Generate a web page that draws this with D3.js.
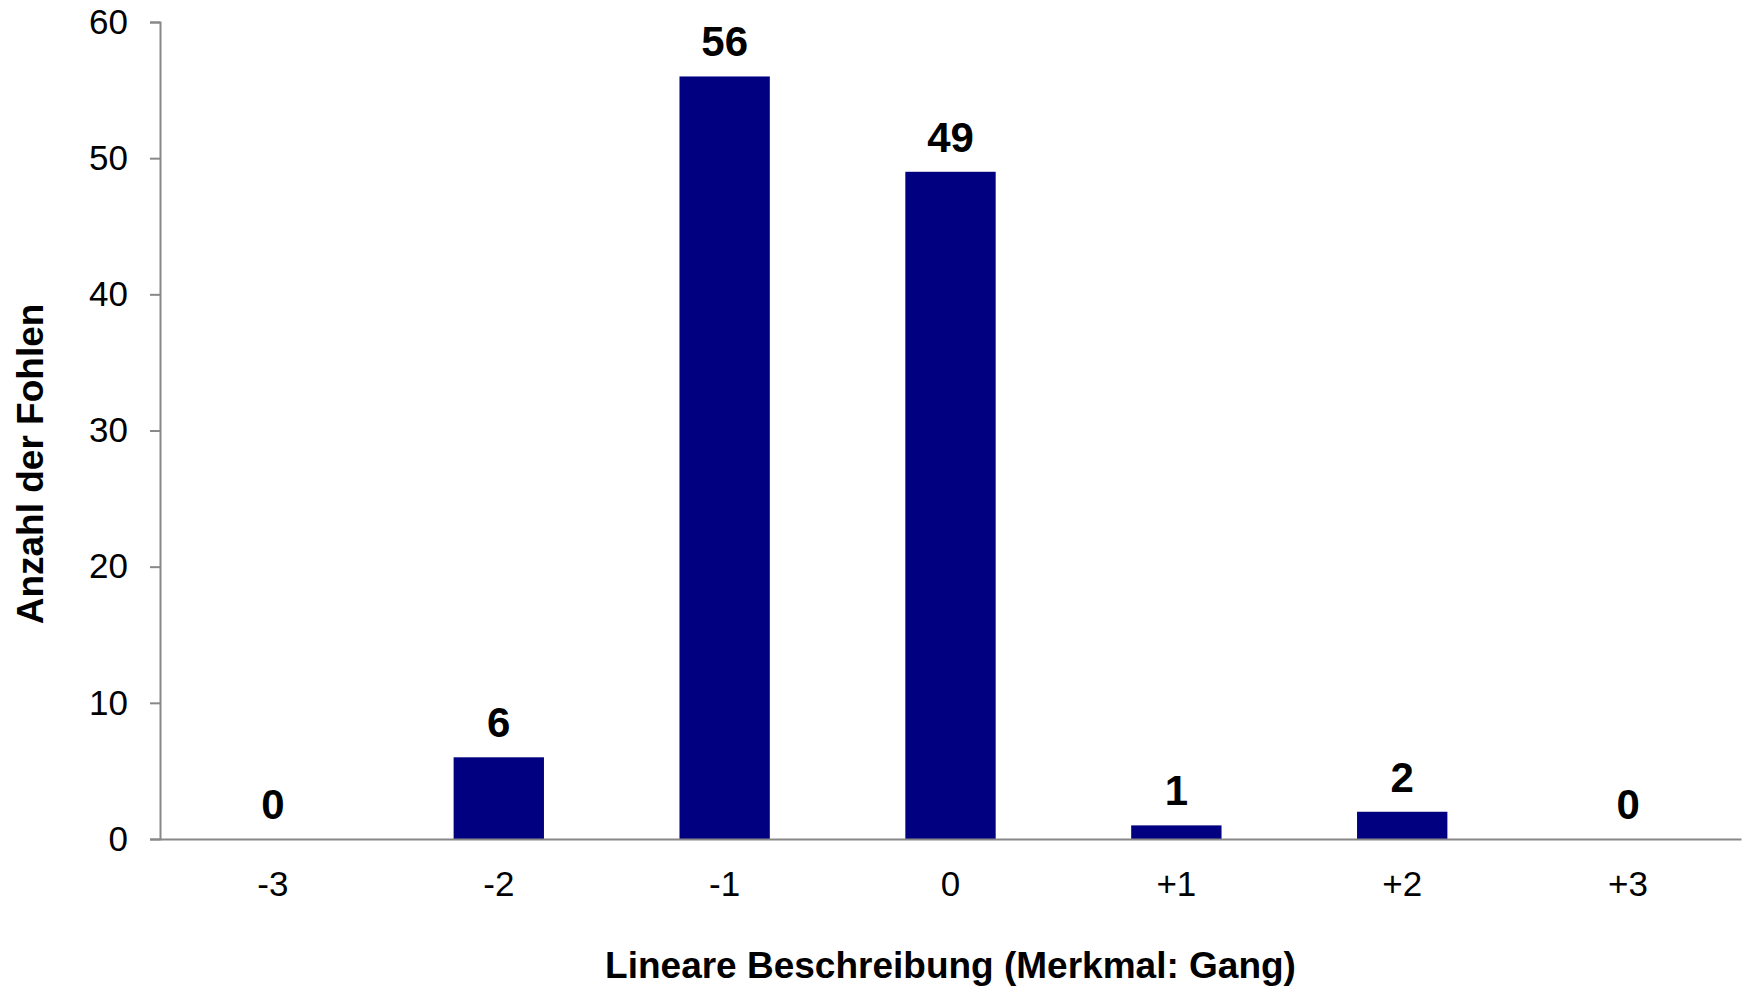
<!DOCTYPE html>
<html>
<head>
<meta charset="utf-8">
<script src="https://cdn.jsdelivr.net/npm/d3@7"></script>
<style>
  body { margin: 0; background: #fff; }
  svg { display: block; font-family: 'Liberation Sans', Arial, sans-serif; }
</style>
</head>
<body>
<div id="chart"></div>
<script>
const categories = ['-3', '-2', '-1', '0', '+1', '+2', '+3'];
const counts = [0, 6, 56, 49, 1, 2, 0];
const yTicks = [0, 10, 20, 30, 40, 50, 60];
const xTitle = 'Lineare Beschreibung (Merkmal: Gang)';
const yTitle = 'Anzahl der Fohlen';

const width = 1748;
const height = 986;
const margin = { top: 22, right: 7, bottom: 147, left: 160 };
const plotW = width - margin.left - margin.right;
const plotH = height - margin.top - margin.bottom;

const svg = d3.select('#chart').append('svg')
  .attr('width', width)
  .attr('height', height);

const g = svg.append('g')
  .attr('transform', `translate(${margin.left}, ${margin.top})`);

const x = d3.scaleBand()
  .domain(categories)
  .range([0, plotW])
  .paddingInner(0.6)
  .paddingOuter(0.3);

const y = d3.scaleLinear()
  .domain([0, 60])
  .range([plotH, 0]);

// bars
g.selectAll('rect.bar')
  .data(counts)
  .join('rect')
  .attr('class', 'bar')
  .attr('x', (d, i) => x(categories[i]))
  .attr('y', d => y(d))
  .attr('width', x.bandwidth())
  .attr('height', d => plotH - y(d))
  .attr('fill', '#000080');

// value labels
g.selectAll('text.value')
  .data(counts)
  .join('text')
  .attr('class', 'value')
  .attr('x', (d, i) => x(categories[i]) + x.bandwidth() / 2)
  .attr('y', d => y(d) - 20)
  .attr('text-anchor', 'middle')
  .attr('font-size', '42px')
  .attr('font-weight', 'bold')
  .attr('fill', '#000')
  .text(d => d);

// y axis
const yAxis = g.append('g')
  .call(d3.axisLeft(y).tickValues(yTicks).tickSize(10).tickPadding(22));
yAxis.select('.domain').attr('stroke', '#888').attr('stroke-width', 2);
yAxis.selectAll('.tick line').attr('stroke', '#888').attr('stroke-width', 2);
yAxis.selectAll('.tick text')
  .attr('font-size', '35px')
  .attr('font-family', "'Liberation Sans', Arial, sans-serif")
  .attr('fill', '#000');

// x axis
const xAxis = g.append('g')
  .attr('transform', `translate(0, ${plotH})`)
  .call(d3.axisBottom(x).tickSize(0).tickPadding(32).tickSizeOuter(0));
xAxis.select('.domain').attr('stroke', '#888').attr('stroke-width', 2);
xAxis.selectAll('.tick text')
  .attr('font-size', '35px')
  .attr('font-family', "'Liberation Sans', Arial, sans-serif")
  .attr('fill', '#000');

// axis titles
svg.append('text')
  .attr('x', margin.left + plotW / 2)
  .attr('y', 978)
  .attr('text-anchor', 'middle')
  .attr('font-size', '37px')
  .attr('font-weight', 'bold')
  .attr('fill', '#000')
  .text(xTitle);

svg.append('text')
  .attr('transform', 'translate(43, 464) rotate(-90)')
  .attr('text-anchor', 'middle')
  .attr('font-size', '37px')
  .attr('font-weight', 'bold')
  .attr('fill', '#000')
  .text(yTitle);
</script>
</body>
</html>
